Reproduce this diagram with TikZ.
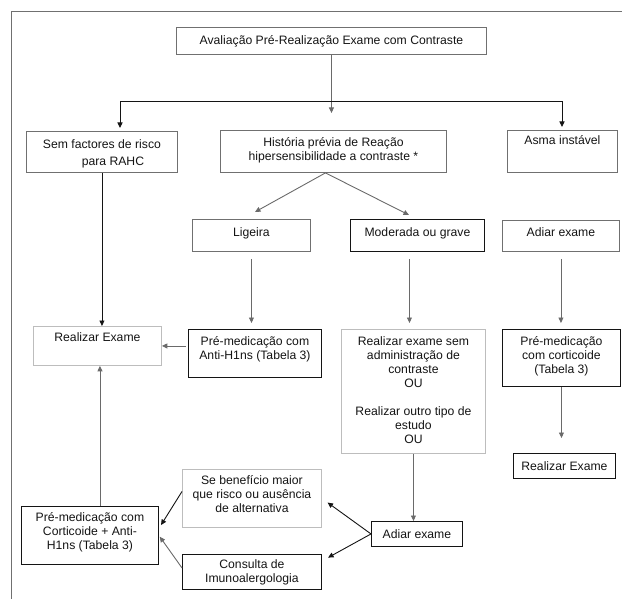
\documentclass[tikz,border=0pt]{standalone}
\usepackage{fontspec}
\setmainfont{Liberation Sans}
\usetikzlibrary{arrows.meta,calc}
\definecolor{bgray}{HTML}{707070}
\definecolor{lgray}{HTML}{BDBDBD}
\definecolor{dk}{HTML}{141414}
\definecolor{agray}{HTML}{6A6A6A}
\newcommand\bxt[4]{\parbox[c][#2pt][t]{#1pt}{\centering\vspace*{#3pt}\strut #4\par}}
\begin{document}
\begin{tikzpicture}[x=1pt,y=-1pt,
  bx/.style={anchor=north west, inner sep=0pt, line width=0.9pt, text=dk,
    font=\fontsize{12.2}{14}\selectfont},
  gbox/.style={bx, draw=bgray},
  kbox/.style={bx, draw=dk},
  lbox/.style={bx, draw=lgray},
  tip/.style={-{Triangle[length=5.5pt,width=5pt]}},
  arrg/.style={tip, draw=agray, line width=0.9pt},
  arrk/.style={tip, draw=dk, line width=0.9pt}]
\useasboundingbox (0,0) rectangle (622,599);
% frame
\draw[bgray, line width=0.9pt] (11,599) -- (11,11) -- (622,11);
% boxes
\node[gbox] (top) at (176,27) {\bxt{310}{27}{7.2}{Avaliação Pré-Realização Exame com Contraste}};
\node[gbox] (sem) at (26,131) {\bxt{151}{41}{7.2}{Sem factores de risco\\[3pt]\hspace*{22pt}para RAHC}};
\node[gbox] (hist) at (220,130) {\bxt{226}{42}{6.2}{História prévia de Reação\\hipersensibilidade a contraste *}};
\node[gbox] (asma) at (507,130) {\bxt{110}{42}{4.2}{Asma instável}};
\node[gbox] (lig) at (192,219) {\bxt{118}{32}{7.2}{Ligeira}};
\node[kbox] (mod) at (350,219) {\bxt{134}{32}{7.2}{Moderada ou grave}};
\node[gbox] (adiar1) at (502,220) {\bxt{117}{31}{6}{Adiar exame}};
\node[lbox] (real1) at (33,326) {\bxt{128}{39}{5.2}{Realizar Exame}};
\node[kbox] (premed1) at (188,329) {\bxt{133}{48}{6.2}{Pré-medicação com\\Anti-H1ns (Tabela 3)}};
\node[lbox] (realsem) at (341,329) {\bxt{144}{124}{6.2}{Realizar exame sem\\administração de\\contraste\\OU\\[14pt]Realizar outro tipo de\\estudo\\OU}};
\node[kbox] (premedc) at (502,329) {\bxt{118}{57}{6.2}{Pré-medicação\\com corticoide\\(Tabela 3)}};
\node[kbox] (real2) at (513,453) {\bxt{102}{25}{7.2}{Realizar Exame}};
\node[lbox] (seben) at (182,469) {\bxt{139}{58}{5.2}{Se benefício maior\\que risco ou ausência\\de alternativa}};
\node[kbox] (adiar2) at (371,521) {\bxt{91}{25}{7.2}{Adiar exame}};
\node[kbox] (premed2) at (21,506) {\bxt{137}{58}{5.2}{Pré-medicação com\\Corticoide + Anti-\\H1ns (Tabela 3)}};
\node[kbox] (cons) at (182,554) {\bxt{139}{35}{4.2}{Consulta de\\Imunoalergologia}};
% connectors
\draw[arrg, shorten >=17pt] (top.south) -- (top.south |- hist.north);
\coordinate (hl) at (120,101);
\coordinate (hr) at (562,101);
\draw[dk, line width=0.9pt, {Triangle[length=5.5pt,width=5pt]}-{Triangle[length=5.5pt,width=5pt]}, shorten <=3pt, shorten >=3pt]
  (hl |- sem.north) -- (hl) -- (hr) -- (hr |- asma.north);
\draw[arrk] (sem.south) -- (sem.south |- real1.north);
\coordinate (hs) at ($(hist.south)+(-8,0)$);
\coordinate (dl) at (255,212);
\coordinate (dr) at (409,215);
\draw[arrg] (hs) -- (dl);
\draw[arrg] (hs) -- (dr);
\draw[arrg, shorten <=7pt, shorten >=6pt] (lig.south) -- (lig.south |- premed1.north);
\coordinate (ms) at ($(mod.south)+(-8,0)$);
\draw[arrg, shorten <=7pt, shorten >=6pt] (ms) -- (ms |- realsem.north);
\draw[arrg, shorten <=7pt, shorten >=6pt] (adiar1.south) -- (adiar1.south |- premedc.north);
\draw[arrg, shorten <=2pt] (premed1.west |- real1.east) -- (real1.east);
\coordinate (p2n) at ($(premed2.north)+(10,0)$);
\draw[arrg] (p2n) -- (p2n |- real1.south);
\draw[arrg, shorten >=15pt] (premedc.south) -- (premedc.south |- real2.north);
\draw[arrg] (realsem.south) -- (realsem.south |- adiar2.north);
\draw[arrk, shorten >=7pt] (adiar2.west) -- (seben.east);
\coordinate (ce) at ($(cons.north east)+(0,7)$);
\draw[arrk, shorten >=7pt] (adiar2.west) -- (ce);
\coordinate (sw) at ($(seben.west)+(0,-7)$);
\coordinate (pe) at ($(premed2.east)+(0,-7)$);
\draw[arrk, shorten >=4pt] (sw) -- (pe);
\coordinate (cw) at ($(cons.west)+(0,-4)$);
\draw[arrg, shorten >=1.5pt] (cw) -- (premed2.east);
\end{tikzpicture}
\end{document}
